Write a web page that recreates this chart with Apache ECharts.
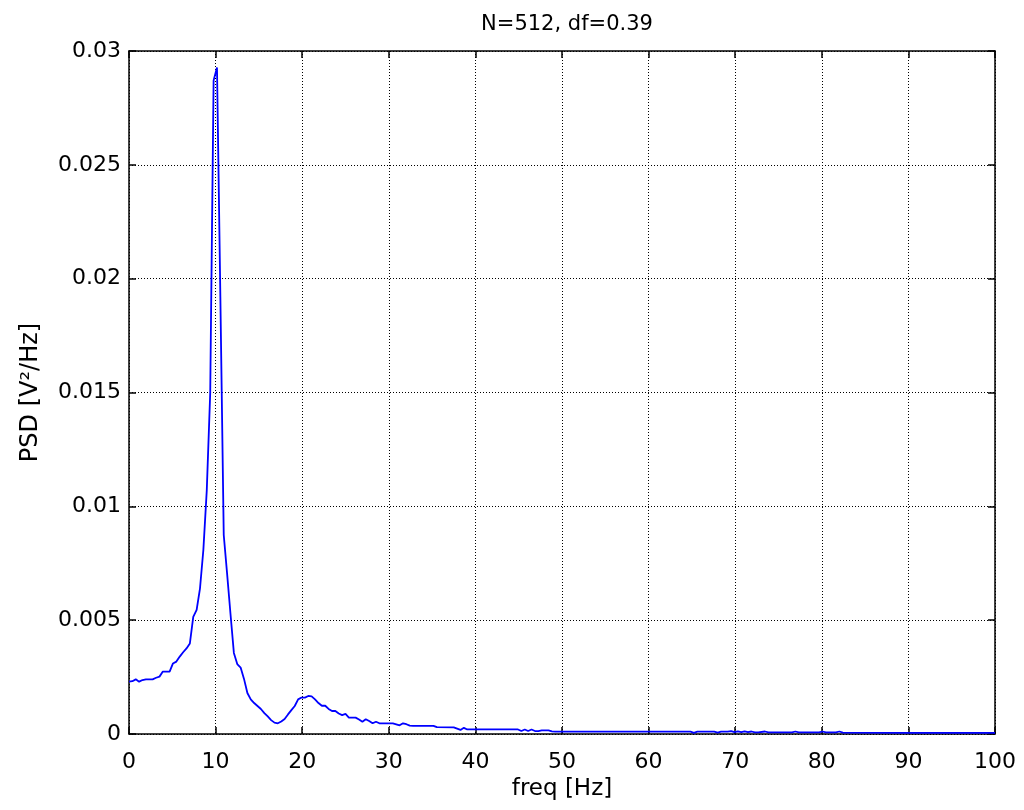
<!DOCTYPE html>
<html>
<head>
<meta charset="utf-8">
<script src="https://cdn.jsdelivr.net/npm/echarts@6/dist/echarts.min.js"></script>
<style>
html,body{margin:0;padding:0;background:#fff;}
#chart{width:1024px;height:810px;}
</style>
</head>
<body>
<div id="chart"></div>
<script>
var titleText = 'N=512, df=0.39';
var xName = 'freq [Hz]';
var yName = 'PSD [V\u00B2/Hz]';
var xTicks = [0, 10, 20, 30, 40, 50, 60, 70, 80, 90, 100];
var yTicks = [0, 0.005, 0.01, 0.015, 0.02, 0.025, 0.03];

var freq = [
  0, 0.39, 0.78, 1.17, 1.56, 1.95, 2.34, 2.73, 3.13, 3.52,
  3.91, 4.30, 4.69, 5.08, 5.47, 5.86, 6.25, 6.64, 7.03, 7.42,
  7.81, 8.20, 8.59, 8.98, 9.38, 9.77, 10.16, 10.55, 10.94, 11.33,
  11.72, 12.11, 12.50, 12.89, 13.28, 13.67, 14.06, 14.45, 14.84, 15.23,
  15.63, 16.02, 16.41, 16.80, 17.19, 17.58, 17.97, 18.36, 18.75, 19.14,
  19.53, 19.92, 20.31, 20.70, 21.09, 21.48, 21.88, 22.27, 22.66, 23.05,
  23.44, 23.83, 24.22, 24.61, 25.00, 25.39, 25.78, 26.17, 26.56, 26.95,
  27.34, 27.73, 28.13, 28.52, 28.91, 29.30, 30.47, 31.25, 31.64, 32.03,
  32.42, 32.81, 35.16, 35.55, 37.50, 38.28, 38.67, 39.06, 44.92, 45.31,
  45.70, 46.09, 46.48, 46.88, 47.27, 47.66, 48.44, 48.83, 49.22, 55.08,
  60.16, 64.84, 65.23, 65.63, 67.58, 67.97, 68.36, 69.14, 69.53, 69.92,
  70.31, 70.70, 71.09, 71.48, 71.88, 72.27, 72.66, 73.44, 73.83, 74.22,
  76.56, 76.95, 77.34, 79.69, 80.08, 80.47, 81.64, 82.03, 82.42, 90.23,
  100.00
];
var psd = [
  0.00230, 0.00232, 0.00240, 0.00230, 0.00237, 0.00240, 0.00240, 0.00240, 0.00247, 0.00252,
  0.00274, 0.00274, 0.00274, 0.00310, 0.00318, 0.00340, 0.00359, 0.00376, 0.00398, 0.00514,
  0.00545, 0.00640, 0.00810, 0.01070, 0.01500, 0.02870, 0.02928, 0.01920, 0.00874, 0.00703,
  0.00527, 0.00356, 0.00307, 0.00292, 0.00242, 0.00180, 0.00152, 0.00136, 0.00123, 0.00110,
  0.00092, 0.00077, 0.00061, 0.00050, 0.00047, 0.00055, 0.00066, 0.00086, 0.00105, 0.00123,
  0.00152, 0.00160, 0.00160, 0.00167, 0.00165, 0.00152, 0.00136, 0.00124, 0.00124, 0.00110,
  0.00101, 0.00101, 0.00090, 0.00083, 0.00088, 0.00072, 0.00072, 0.00072, 0.00064, 0.00054,
  0.00065, 0.00057, 0.00047, 0.00054, 0.00047, 0.00047, 0.00047, 0.00038, 0.00047, 0.00043,
  0.00037, 0.00036, 0.00036, 0.00030, 0.00029, 0.00018, 0.00027, 0.00020, 0.00020, 0.00013,
  0.00020, 0.00013, 0.00020, 0.00013, 0.00013, 0.00016, 0.00016, 0.00012, 0.00010, 0.00010,
  0.00010, 0.00010, 0.00005, 0.00010, 0.00010, 0.00006, 0.00010, 0.00010, 0.00013, 0.00008,
  0.00012, 0.00008, 0.00012, 0.00008, 0.00011, 0.00007, 0.00007, 0.00011, 0.00007, 0.00007,
  0.00007, 0.00011, 0.00007, 0.00007, 0.00011, 0.00007, 0.00007, 0.00011, 0.00006, 0.00005,
  0.00005
];

var fontFam = '"DejaVu Sans", "Liberation Sans", Arial, sans-serif';
var seriesData = freq.map(function (f, i) { return [f, psd[i]]; });

var chart = echarts.init(document.getElementById('chart'), null, {renderer: 'canvas'});
var gridLine = {show: true, lineStyle: {color: '#000', width: 1, type: [1, 2]}};
var tickIn = {show: true, inside: true, length: 7, lineStyle: {color: '#000', width: 1.5}};
var axLine = {show: true, onZero: false, lineStyle: {color: '#000', width: 1.5}};

chart.setOption({
  animation: false,
  backgroundColor: '#fff',
  title: {
    text: titleText,
    left: 562,
    top: 9,
    textAlign: 'center',
    textStyle: {fontFamily: fontFam, fontSize: 21, fontWeight: 'normal', color: '#000'}
  },
  grid: {left: 129, right: 29, top: 51, bottom: 76, containLabel: false},
  xAxis: [{
    type: 'value', min: xTicks[0], max: xTicks[xTicks.length - 1], interval: 10,
    position: 'bottom',
    name: xName, nameLocation: 'middle', nameGap: 43,
    nameTextStyle: {fontFamily: fontFam, fontSize: 23, color: '#000'},
    axisLine: axLine, axisTick: tickIn, splitLine: gridLine,
    axisLabel: {fontFamily: fontFam, fontSize: 22, color: '#000', margin: 17}
  }, {
    type: 'value', min: xTicks[0], max: xTicks[xTicks.length - 1], interval: 10,
    position: 'top',
    axisLine: axLine, axisTick: tickIn, splitLine: {show: false},
    axisLabel: {show: false}
  }],
  yAxis: [{
    type: 'value', min: yTicks[0], max: yTicks[yTicks.length - 1], interval: 0.005,
    position: 'left',
    name: yName, nameLocation: 'middle', nameGap: 86,
    nameTextStyle: {fontFamily: fontFam, fontSize: 24, color: '#000'},
    axisLine: axLine, axisTick: tickIn, splitLine: gridLine,
    axisLabel: {
      fontFamily: fontFam, fontSize: 22, color: '#000', margin: 8,
      formatter: function (v) {
        var idx = yTicks.findIndex(function (t) { return Math.abs(t - v) < 1e-9; });
        return idx >= 0 ? String(yTicks[idx]) : '';
      }
    }
  }, {
    type: 'value', min: yTicks[0], max: yTicks[yTicks.length - 1], interval: 0.005,
    position: 'right',
    axisLine: axLine, axisTick: tickIn, splitLine: {show: false},
    axisLabel: {show: false}
  }],
  series: [{
    type: 'line',
    data: seriesData,
    xAxisIndex: 0, yAxisIndex: 0,
    showSymbol: false,
    symbol: 'none',
    lineStyle: {color: '#0000ff', width: 1.8},
    itemStyle: {color: '#0000ff'},
    z: 5
  }]
});
</script>
</body>
</html>
